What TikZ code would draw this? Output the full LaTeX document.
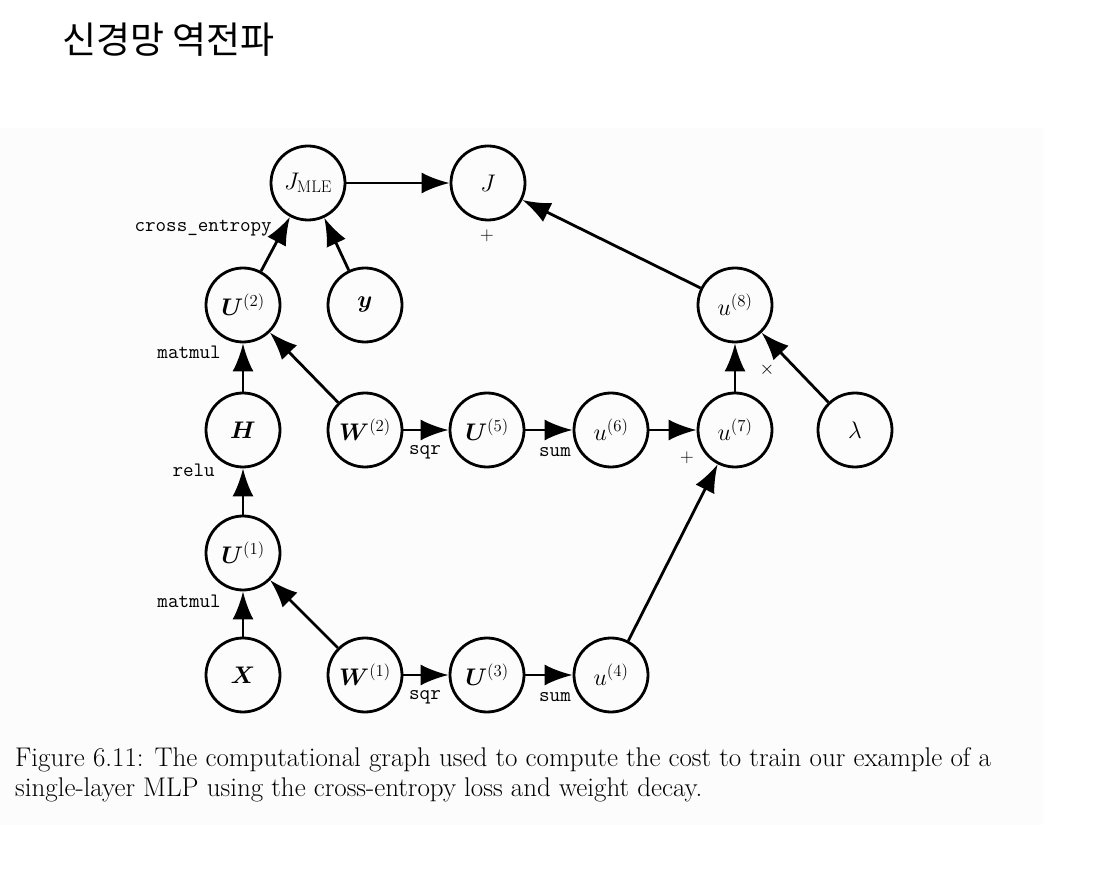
\RequirePackage{fix-cm}
\documentclass[tikz,border=0pt]{standalone}
\usepackage{amsmath,bm}
\usepackage{fontspec}
\newfontfamily\krfont{Noto Sans CJK KR}
\usetikzlibrary{arrows.meta}
\definecolor{pagegray}{rgb}{0.988,0.988,0.988}

\begin{document}
\begin{tikzpicture}[x=1pt,y=-1pt,
  var/.style={circle,draw,line width=2.8pt,minimum size=74pt,inner sep=0pt,
    font=\fontsize{24}{28}\selectfont},
  arr/.style={-{Latex[length=28pt,width=21pt]},line width=2.8pt},
  op/.style={inner sep=0pt,font=\fontsize{20.5}{24}\ttfamily},
  sym/.style={inner sep=0pt,font=\fontsize{19}{22}\selectfont}]
  \useasboundingbox (0,0) rectangle (1104,874);
  \fill[pagegray] (0,128) rectangle (1043,825);
  \node[anchor=west,inner sep=0pt,font=\krfont\fontsize{37}{42}\selectfont] (title) at (62,40) {신경망 역전파};
  % nodes of the graph
  \node[var] (JMLE) at (308,183) {$J_{\mathrm{MLE}}$};
  \node[var] (J) at (488,183) {$J$};
  \node[var] (U2) at (243,305) {$\bm{U}^{(2)}$};
  \node[var] (y) at (365,305) {$\bm{y}$};
  \node[var] (u8) at (735,305) {$u^{(8)}$};
  \node[var] (H) at (243,430) {$\bm{H}$};
  \node[var] (W2) at (365,430) {$\bm{W}^{(2)}$};
  \node[var] (U5) at (487,430) {$\bm{U}^{(5)}$};
  \node[var] (u6) at (611,430) {$u^{(6)}$};
  \node[var] (u7) at (735,430) {$u^{(7)}$};
  \node[var] (lam) at (855,430) {$\lambda$};
  \node[var] (U1) at (243,553) {$\bm{U}^{(1)}$};
  \node[var] (X) at (243,675) {$\bm{X}$};
  \node[var] (W1) at (365,675) {$\bm{W}^{(1)}$};
  \node[var] (U3) at (487,675) {$\bm{U}^{(3)}$};
  \node[var] (u4) at (611,675) {$u^{(4)}$};
  % edges
  \draw[arr] (JMLE) -- (J);
  \draw[arr] (U2) -- (JMLE);
  \draw[arr] (y) -- (JMLE);
  \draw[arr] (u8) -- (J);
  \draw[arr] (H) -- (U2);
  \draw[arr] (W2) -- (U2);
  \draw[arr] (W2) -- (U5);
  \draw[arr] (U5) -- (u6);
  \draw[arr] (u6) -- (u7);
  \draw[arr] (u7) -- (u8);
  \draw[arr] (lam) -- (u8);
  \draw[arr] (u4) -- (u7);
  \draw[arr] (U1) -- (H);
  \draw[arr] (X) -- (U1);
  \draw[arr] (W1) -- (U1);
  \draw[arr] (W1) -- (U3);
  \draw[arr] (U3) -- (u4);
  % operation labels
  \node[op,anchor=east] (xent) at (272,228) {cross\_entropy};
  \node[op,anchor=east] (mm2) at (221,352) {matmul};
  \node[op,anchor=east] (relu) at (215,470) {relu};
  \node[op,anchor=east] (mm1) at (221,601) {matmul};
  \node[op] (sqr2) at (425,452) {sqr};
  \node[op] (sum2) at (555,452) {sum};
  \node[op] (sqr1) at (425,697) {sqr};
  \node[op] (sum1) at (555,697) {sum};
  \node[sym] (plusJ) at (487,236) {$+$};
  \node[sym] (plus7) at (687,458) {$+$};
  \node[sym] (times8) at (767,370) {$\times$};
  % caption
  \node[anchor=north west,align=left,inner sep=0pt,font=\fontsize{27}{30}\selectfont] (cap) at (15,747)
    {Figure 6.11: The computational graph used to compute the cost to train our example of a\\
     single-layer MLP using the cross-entropy loss and weight decay.};
\end{tikzpicture}
\end{document}
